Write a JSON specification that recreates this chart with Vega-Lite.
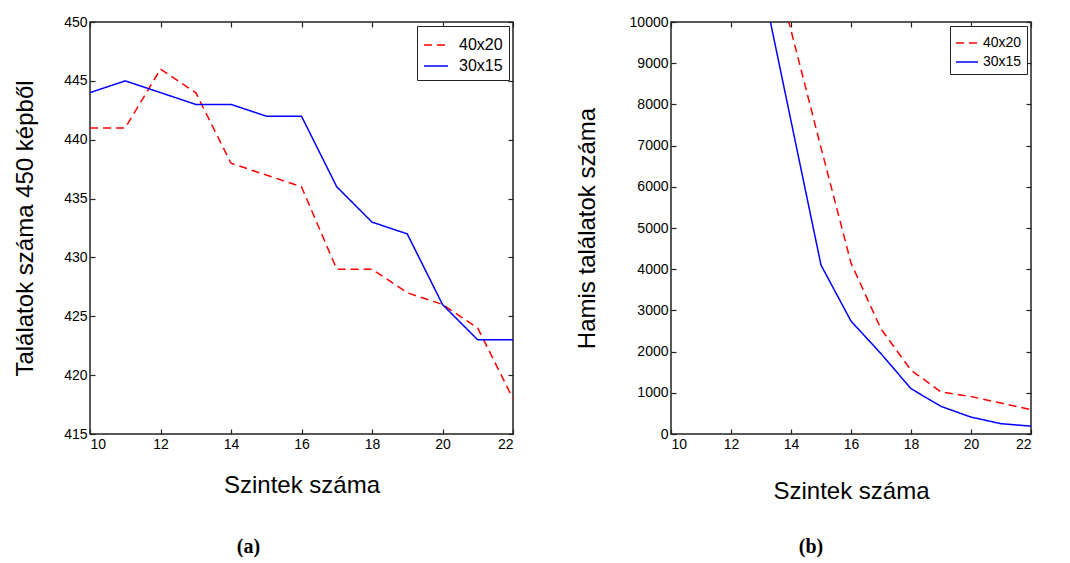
{
  "$schema": "https://vega.github.io/schema/vega-lite/v6.json",
  "padding": {"left": 12, "top": 14, "right": 5, "bottom": 5},
  "background": "white",
  "config": {
    "view": {"stroke": "#222", "strokeWidth": 1.5},
    "axis": {
      "grid": false,
      "domain": false,
      "tickColor": "#222",
      "tickWidth": 1.2,
      "tickSize": -5,
      "labelFont": "Liberation Sans",
      "labelFontSize": 14,
      "labelColor": "black",
      "labelPadding": 8,
      "titleFont": "Liberation Sans",
      "titleFontSize": 24,
      "titleFontWeight": "normal",
      "titleColor": "black"
    },
    "legend": {
      "orient": "top-right",
      "strokeColor": "#222",
      "fillColor": "white",
      "padding": 5,
      "offset": 4,
      "title": null,
      "symbolType": "stroke",
      "symbolStrokeWidth": 1.5,
      "symbolSize": 484,
      "labelFont": "Liberation Sans",
      "labelFontSize": 14,
      "labelColor": "black",
      "rowPadding": 0
    },
    "title": {"font": "Liberation Serif", "fontWeight": "bold", "fontSize": 20, "color": "black", "orient": "bottom"}
  },
  "datasets": {
    "a": [
      {"szint": 10, "sorozat": "40x20", "ertek": 441},
      {"szint": 11, "sorozat": "40x20", "ertek": 441},
      {"szint": 12, "sorozat": "40x20", "ertek": 446},
      {"szint": 13, "sorozat": "40x20", "ertek": 444},
      {"szint": 14, "sorozat": "40x20", "ertek": 438},
      {"szint": 15, "sorozat": "40x20", "ertek": 437},
      {"szint": 16, "sorozat": "40x20", "ertek": 436},
      {"szint": 17, "sorozat": "40x20", "ertek": 429},
      {"szint": 18, "sorozat": "40x20", "ertek": 429},
      {"szint": 19, "sorozat": "40x20", "ertek": 427},
      {"szint": 20, "sorozat": "40x20", "ertek": 426},
      {"szint": 21, "sorozat": "40x20", "ertek": 424},
      {"szint": 22, "sorozat": "40x20", "ertek": 418},
      {"szint": 10, "sorozat": "30x15", "ertek": 444},
      {"szint": 11, "sorozat": "30x15", "ertek": 445},
      {"szint": 12, "sorozat": "30x15", "ertek": 444},
      {"szint": 13, "sorozat": "30x15", "ertek": 443},
      {"szint": 14, "sorozat": "30x15", "ertek": 443},
      {"szint": 15, "sorozat": "30x15", "ertek": 442},
      {"szint": 16, "sorozat": "30x15", "ertek": 442},
      {"szint": 17, "sorozat": "30x15", "ertek": 436},
      {"szint": 18, "sorozat": "30x15", "ertek": 433},
      {"szint": 19, "sorozat": "30x15", "ertek": 432},
      {"szint": 20, "sorozat": "30x15", "ertek": 426},
      {"szint": 21, "sorozat": "30x15", "ertek": 423},
      {"szint": 22, "sorozat": "30x15", "ertek": 423}
    ],
    "b": [
      {"szint": 13, "sorozat": "40x20", "ertek": 12500},
      {"szint": 14, "sorozat": "40x20", "ertek": 9800},
      {"szint": 15, "sorozat": "40x20", "ertek": 6950},
      {"szint": 16, "sorozat": "40x20", "ertek": 4150},
      {"szint": 17, "sorozat": "40x20", "ertek": 2550},
      {"szint": 18, "sorozat": "40x20", "ertek": 1550},
      {"szint": 19, "sorozat": "40x20", "ertek": 1020},
      {"szint": 20, "sorozat": "40x20", "ertek": 910},
      {"szint": 21, "sorozat": "40x20", "ertek": 750},
      {"szint": 22, "sorozat": "40x20", "ertek": 590},
      {"szint": 13, "sorozat": "30x15", "ertek": 11100},
      {"szint": 14, "sorozat": "30x15", "ertek": 7600},
      {"szint": 15, "sorozat": "30x15", "ertek": 4100},
      {"szint": 16, "sorozat": "30x15", "ertek": 2740},
      {"szint": 17, "sorozat": "30x15", "ertek": 1950},
      {"szint": 18, "sorozat": "30x15", "ertek": 1100},
      {"szint": 19, "sorozat": "30x15", "ertek": 670},
      {"szint": 20, "sorozat": "30x15", "ertek": 410},
      {"szint": 21, "sorozat": "30x15", "ertek": 250},
      {"szint": 22, "sorozat": "30x15", "ertek": 190}
    ]
  },
  "spacing": 57,
  "resolve": {"scale": {"color": "independent", "strokeDash": "independent"}},
  "hconcat": [
    {
      "width": 423,
      "height": 412,
      "data": {"name": "a"},
      "title": {"text": "(a)", "dx": -53, "offset": 40},
      "layer": [
        {
          "mark": {"type": "line", "strokeWidth": 1.5},
          "encoding": {
            "x": {"field": "szint", "type": "quantitative", "scale": {"domain": [10, 22], "nice": false},
                  "axis": {"title": "Szintek száma", "values": [10, 12, 14, 16, 18, 20, 22], "titlePadding": 22}},
            "y": {"field": "ertek", "type": "quantitative", "scale": {"domain": [415, 450], "nice": false, "zero": false},
                  "axis": {"title": "Találatok száma 450 képből", "values": [415, 420, 425, 430, 435, 440, 445, 450], "titlePadding": 26}},
            "color": {"field": "sorozat", "type": "nominal", "scale": {"domain": ["40x20", "30x15"], "range": ["#ff0000", "#0000ff"]},
                      "legend": {"symbolSize": 576, "labelFontSize": 16, "padding": 6, "labelOffset": 10}},
            "strokeDash": {"field": "sorozat", "type": "nominal", "scale": {"domain": ["40x20", "30x15"], "range": [[8, 5], [1, 0]]},
                      "legend": {"symbolSize": 576, "labelFontSize": 16, "padding": 6, "labelOffset": 10}}
          }
        },
        {
          "mark": {"type": "point", "opacity": 0},
          "encoding": {
            "x": {"field": "szint", "type": "quantitative", "axis": {"orient": "top", "labels": false, "title": null, "values": [10, 12, 14, 16, 18, 20, 22]}},
            "y": {"field": "ertek", "type": "quantitative", "axis": {"orient": "right", "labels": false, "title": null, "values": [415, 420, 425, 430, 435, 440, 445, 450]}}
          }
        }
      ],
      "resolve": {"axis": {"x": "independent", "y": "independent"}}
    },
    {
      "width": 360,
      "height": 412,
      "data": {"name": "b"},
      "title": {"text": "(b)", "dx": -40, "offset": 34},
      "layer": [
        {
          "mark": {"type": "line", "strokeWidth": 1.5, "clip": true},
          "encoding": {
            "x": {"field": "szint", "type": "quantitative", "scale": {"domain": [10, 22], "nice": false},
                  "axis": {"title": "Szintek száma", "values": [10, 12, 14, 16, 18, 20, 22], "titlePadding": 28}},
            "y": {"field": "ertek", "type": "quantitative", "scale": {"domain": [0, 10000], "nice": false},
                  "axis": {"title": "Hamis találatok száma", "format": "d", "values": [0, 1000, 2000, 3000, 4000, 5000, 6000, 7000, 8000, 9000, 10000], "titlePadding": 30}},
            "color": {"field": "sorozat", "type": "nominal", "scale": {"domain": ["40x20", "30x15"], "range": ["#ff0000", "#0000ff"]}},
            "strokeDash": {"field": "sorozat", "type": "nominal", "scale": {"domain": ["40x20", "30x15"], "range": [[8, 5], [1, 0]]}}
          }
        },
        {
          "mark": {"type": "point", "opacity": 0, "clip": true},
          "encoding": {
            "x": {"field": "szint", "type": "quantitative", "axis": {"orient": "top", "labels": false, "title": null, "values": [10, 12, 14, 16, 18, 20, 22]}},
            "y": {"field": "ertek", "type": "quantitative", "axis": {"orient": "right", "labels": false, "title": null, "values": [0, 1000, 2000, 3000, 4000, 5000, 6000, 7000, 8000, 9000, 10000]}}
          }
        }
      ],
      "resolve": {"axis": {"x": "independent", "y": "independent"}}
    }
  ]
}
